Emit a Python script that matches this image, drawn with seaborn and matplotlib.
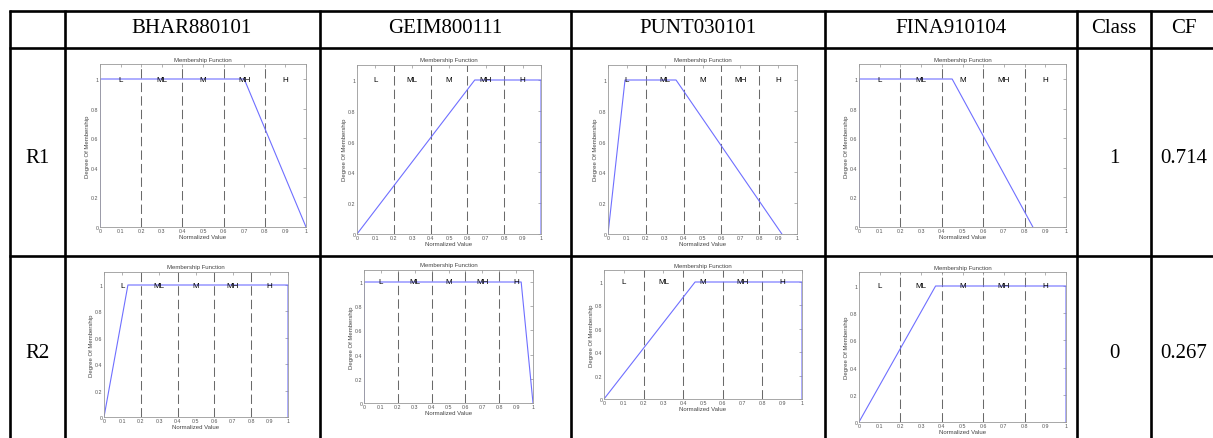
import matplotlib.pyplot as plt
import seaborn as sns
import pandas as pd

features = ["BHAR880101", "GEIM800111", "PUNT030101", "FINA910104"]
rules = ["R1", "R2"]
rule_class = ["1", "0"]
rule_cf = ["0.714", "0.267"]
terms = ["L", "ML", "M", "MH", "H"]
term_centers = [0.1, 0.3, 0.5, 0.7, 0.9]
term_edges = [0.2, 0.4, 0.6, 0.8]

# corners of each membership function (normalized value -> degree)
r1_x = [[0, 0, 0.7, 1], [0, 0.64, 1, 1], [0, 0.09, 0.36, 0.92], [0, 0, 0.45, 0.84]]
r2_x = [[0, 0.13, 1, 1], [0, 0, 0.93, 1], [0, 0.46, 1, 1], [0, 0.37, 1, 1]]
mf_y = [0, 1, 1, 0]

x_ticks = [i / 10 for i in range(11)]
y_ticks = [0, 0.2, 0.4, 0.6, 0.8, 1]

W, H = 1213, 439

# pixel boxes of the small plots: left, right, y of degree 1, y of degree 0
boxes = [
    [(100, 306, 80, 228), (357, 541, 81, 235), (608, 797, 81, 235), (859, 1066, 80, 228)],
    [(104, 288, 286, 418), (364, 533, 283, 404), (604, 802, 283, 400), (859, 1066, 287, 423)],
]

# table grid (pixels)
col_lines = [10, 65, 320, 571, 825, 1077, 1151]
row_lines = [12, 49, 257]
head_x = [192, 445, 698, 951]
class_x, cf_x, rule_x = 1114, 1184, 37
row_base = [163, 358]

sns.set_theme(style="white")
plt.rcParams["font.family"] = ["Liberation Sans", "DejaVu Sans"]

fig = plt.figure(figsize=(W / 100, H / 100), dpi=100)
bg = fig.add_axes([0, 0, 1, 1])
bg.set_xlim(0, W)
bg.set_ylim(H, 0)
bg.axis("off")

for y in row_lines:
    bg.plot([col_lines[0] - 1, W], [y, y], color="black", lw=1.9, solid_capstyle="butt")
for x in col_lines:
    bg.plot([x, x], [row_lines[0] - 1, H], color="black", lw=1.9, solid_capstyle="butt")

serif = dict(family="Liberation Serif", fontsize=15, ha="center", va="baseline", color="black")
for name, x in zip(features, head_x):
    bg.text(x, 33, name, **serif)
bg.text(class_x, 33, "Class", **serif)
bg.text(cf_x, 33, "CF", **serif)
for i in range(2):
    bg.text(rule_x, row_base[i], rules[i], **serif)
    bg.text(class_x, row_base[i], rule_class[i], **serif)
    bg.text(cf_x, row_base[i], rule_cf[i], **serif)

for i, xs_row in enumerate([r1_x, r2_x]):
    for j, xs in enumerate(xs_row):
        l, r, y1, y0 = boxes[i][j]
        ax = fig.add_axes([l / W, 1 - y0 / H, (r - l) / W, (y0 - y1) * 1.1 / H])
        df = pd.DataFrame({"x": xs, "y": mf_y})
        for e in term_edges:
            ax.axvline(e, color="#6a6a6a", ls=(0, (9, 4)), lw=0.75)
        sns.lineplot(data=df, x="x", y="y", sort=False, estimator=None,
                     color="#6f6fff", lw=0.8, ax=ax)
        for t, c in zip(terms, term_centers):
            ax.text(c, 1, t, fontsize=5.8, ha="center", va="center", color="black")
        ax.set_xlim(0, 1)
        ax.set_ylim(0, 1.1)
        ax.set_xticks(x_ticks)
        ax.set_xticklabels([f"{v:g}" for v in x_ticks])
        ax.set_yticks(y_ticks)
        ax.set_yticklabels([f"{v:g}" for v in y_ticks])
        ax.tick_params(direction="in", top=True, right=True, length=2, width=0.4,
                       color="#777777", labelcolor="#555555", labelsize=3.8, pad=1)
        for s in ax.spines.values():
            s.set_color("#999999")
            s.set_linewidth(0.6)
        ax.set_title("Membership Function", fontsize=4.3, color="#444444", pad=2.5)
        ax.set_xlabel("Normalized Value", fontsize=4.3, color="#444444", labelpad=0.5)
        ax.set_ylabel("Degree Of Membership", fontsize=4.3, color="#444444", labelpad=1)

fig.savefig("out.png", dpi=100)
